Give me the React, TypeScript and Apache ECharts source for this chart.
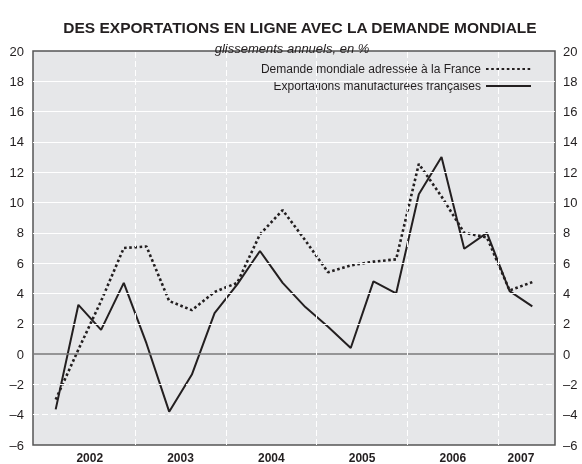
import React, { useEffect, useRef } from "react";
import * as echarts from "echarts";

const quarters = [
  "2002T1", "2002T2", "2002T3", "2002T4",
  "2003T1", "2003T2", "2003T3", "2003T4",
  "2004T1", "2004T2", "2004T3", "2004T4",
  "2005T1", "2005T2", "2005T3", "2005T4",
  "2006T1", "2006T2", "2006T3", "2006T4",
  "2007T1", "2007T2",
];
const years = ["2002", "2003", "2004", "2005", "2006", "2007"];
const demandeMondiale = [
  -3.0, 0.3, 3.5, 7.0, 7.1, 3.5, 2.9, 4.1,
  4.7, 7.9, 9.5, 7.5, 5.4, 5.85, 6.1, 6.25,
  12.55, 10.4, 8.0, 7.7, 4.2, 4.75,
];
const exportations = [
  -3.65, 3.25, 1.6, 4.7, 0.7, -3.8, -1.35, 2.7,
  4.6, 6.8, 4.7, 3.1, 1.8, 0.4, 4.8, 4.0,
  10.55, 13.0, 6.95, 8.0, 4.15, 3.15,
];
const yTicks = [-6, -4, -2, 0, 2, 4, 6, 8, 10, 12, 14, 16, 18, 20];

const seriesNames = [
  "Demande mondiale adressée à la France",
  "Exportations manufacturées françaises",
];

export default function App() {
  const ref = useRef<HTMLDivElement>(null);
  useEffect(() => {
    if (!ref.current) return;
    const chart = echarts.init(ref.current, null, { renderer: "svg" });

    const yearPos: Record<number, string> = {};
    years.forEach((y) => {
      const idx = quarters.map((q, i) => (q.startsWith(y) ? i : -1)).filter((i) => i >= 0);
      const mean = idx.reduce((a, b) => a + b, 0) / idx.length;
      yearPos[Math.round(mean * 2)] = y;
    });
    const boundaries: number[] = [];
    for (let i = 1; i < quarters.length; i++) {
      if (quarters[i].slice(0, 4) !== quarters[i - 1].slice(0, 4)) boundaries.push(i - 0.5);
    }

    const font = "'Liberation Sans', Arial, sans-serif";
    const ink = "#231f20";
    const fmtY = (v: number) => String(v).replace("-", "\u2013");

    const gridLines: any[] = [];
    yTicks.forEach((v) => {
      if (v === yTicks[0] || v === yTicks[yTicks.length - 1]) return;
      gridLines.push({
        yAxis: v,
        lineStyle:
          v === 0
            ? { color: "#7a7a7a", width: 1.5, type: "solid" }
            : { color: "#ffffff", width: 1, type: v < 0 ? [6, 3] : "solid" },
      });
    });
    boundaries.forEach((b) => {
      gridLines.push({
        xAxis: b,
        lineStyle: { color: "#ffffff", width: 1, type: [6, 3] },
      });
    });

    chart.setOption({
      animation: false,
      title: [
        {
          text: "DES EXPORTATIONS EN LIGNE AVEC LA DEMANDE MONDIALE",
          left: 295,
          top: 14,
          textAlign: "center",
          textStyle: {
            fontFamily: font,
            fontWeight: "bold",
            fontSize: 15.5,
            color: ink,
          },
        },
        {
          text: "glissements annuels, en %",
          left: 287,
          top: 37,
          textAlign: "center",
          textStyle: {
            fontFamily: font,
            fontStyle: "italic",
            fontWeight: "normal",
            fontSize: 13,
            color: ink,
          },
        },
      ],
      legend: {
        data: seriesNames,
        orient: "vertical",
        right: 45,
        top: 58,
        align: "right",
        itemWidth: 45,
        itemHeight: 14,
        itemGap: 5,
        itemStyle: { color: "rgba(0,0,0,0)", borderWidth: 0, opacity: 0 },
        textStyle: { fontFamily: font, fontSize: 12, color: ink },
      },
      grid: {
        left: 33,
        right: 27,
        top: 51,
        bottom: 19,
        show: true,
        backgroundColor: "#e6e7e9",
        borderColor: "#555555",
        borderWidth: 1.5,
      },
      xAxis: [
        {
          type: "value",
          min: -1,
          max: quarters.length,
          axisLine: { show: false },
          axisTick: { show: false },
          axisLabel: { show: false },
          splitLine: { show: false },
        },
        {
          type: "value",
          position: "bottom",
          min: -2,
          max: quarters.length * 2,
          interval: 1,
          axisLine: { show: false },
          axisTick: { show: false },
          splitLine: { show: false },
          axisLabel: {
            show: true,
            margin: 7,
            fontFamily: font,
            fontWeight: "bold",
            fontSize: 12,
            color: ink,
            formatter: (v: number) => yearPos[Math.round(v)] ?? "",
          },
        },
      ],
      yAxis: [
        {
          type: "value",
          position: "left",
          min: -6,
          max: 20,
          interval: 2,
          axisLine: { show: false },
          axisTick: { show: false },
          splitLine: { show: false },
          axisLabel: { margin: 9, fontFamily: font, fontSize: 13, color: ink, formatter: fmtY },
        },
        {
          type: "value",
          position: "right",
          min: -6,
          max: 20,
          interval: 2,
          axisLine: { show: false },
          axisTick: { show: false },
          splitLine: { show: false },
          axisLabel: { margin: 8, fontFamily: font, fontSize: 13, color: ink, formatter: fmtY },
        },
      ],
      series: [
        {
          type: "line",
          xAxisIndex: 0,
          yAxisIndex: 0,
          data: [],
          z: 1,
          silent: true,
          markLine: {
            silent: true,
            symbol: "none",
            label: { show: false },
            data: gridLines,
          },
        },
        {
          name: seriesNames[0],
          type: "line",
          xAxisIndex: 0,
          yAxisIndex: 0,
          z: 3,
          symbol: "none",
          showSymbol: false,
          data: demandeMondiale.map((v, i) => [i, v]),
          lineStyle: { color: ink, width: 2.6, type: [2.6, 2.6] },
          itemStyle: { color: ink },
        },
        {
          name: seriesNames[1],
          type: "line",
          xAxisIndex: 0,
          yAxisIndex: 0,
          z: 4,
          symbol: "none",
          showSymbol: false,
          data: exportations.map((v, i) => [i, v]),
          lineStyle: { color: ink, width: 2 },
          itemStyle: { color: ink },
        },
      ],
    });
    return () => chart.dispose();
  }, []);
  return <div ref={ref} style={{ width: 582, height: 464, position: "fixed", left: 0, top: 0 }} />;
}
